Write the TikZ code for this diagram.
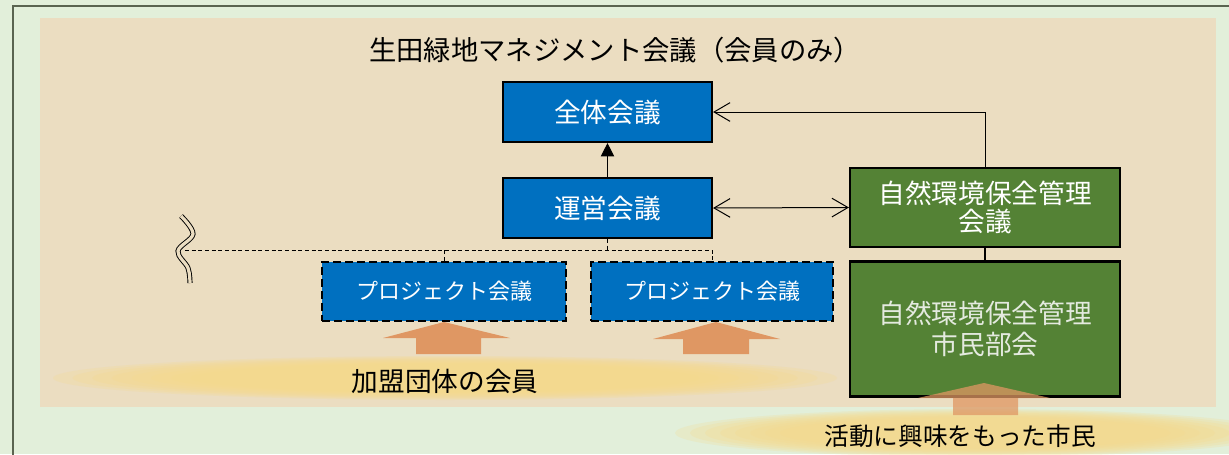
\documentclass[tikz,border=0pt]{standalone}
\usepackage{fontspec}
\setmainfont{Noto Sans CJK JP}
\usetikzlibrary{arrows.meta}
\definecolor{bgg}{HTML}{E2EFDA}
\definecolor{beige}{HTML}{EBDDC1}
\definecolor{blu}{HTML}{0070C0}
\definecolor{grn}{HTML}{548235}
\definecolor{org}{HTML}{DF9763}
\definecolor{glow}{HTML}{F7D98A}
\definecolor{frm}{HTML}{5A6450}
\definecolor{gtxt}{HTML}{E4EADF}
\tikzset{
  bluebox/.style={draw=black, line width=1.6pt, fill=blu, text=white, font=\fontsize{20}{24}\selectfont, inner sep=0pt},
  pjbox/.style={draw=black, line width=2pt, dash pattern=on 6pt off 3pt, fill=blu, text=white, font=\fontsize{16.5}{20}\selectfont, inner sep=0pt},
  grnbox/.style={draw=black, line width=1.6pt, fill=grn, text=white, font=\fontsize{20}{24}\selectfont, inner sep=0pt, align=center},
  conn/.style={line width=0.75pt, black},
  dconn/.style={line width=0.7pt, black, dash pattern=on 3pt off 2pt},
  barb/.tip={Straight Barb[length=12pt, width=14pt, line width=0.75pt]},
  uparrow/.style={fill=org, draw=none},
  lbl/.style={font=\fontsize{20}{24}\selectfont, text=black},
}
\begin{document}
\begin{tikzpicture}[x=0.75pt, y=-0.75pt]
\useasboundingbox (0,0) rectangle (1229,454);
\clip (0,0) rectangle (1229,454);
\fill[bgg] (0,0) rectangle (1229,454);
\draw[frm, line width=1.2pt] (13,460) -- (13,6) -- (1240,6);
\fill[beige] (40,18) rectangle (1216,407);
% glows
\foreach \s in {1.0,0.95,0.9,0.85,0.8,0.75,0.7,0.65} {
  \fill[glow, opacity=0.22] (445,378) ellipse ({392*\s} and {22*\s});
  \fill[glow, opacity=0.22] (975,433) ellipse ({300*\s} and {24*\s});
}
% orange block arrows
\fill[uparrow] (444,322) -- (510,338) -- (481,338) -- (481,354) -- (416,354) -- (416,338) -- (383,338) -- cycle;
\fill[uparrow] (716,322) -- (780,339) -- (749,339) -- (749,354) -- (683,354) -- (683,339) -- (653,339) -- cycle;

\node[font=\fontsize{20.5}{24}\selectfont] (title) at (615,50) {生田緑地マネジメント会議（会員のみ）};

\node[bluebox, minimum width={209*0.75pt}, minimum height={60*0.75pt}] (zen) at (607.5,112) {全体会議};
\node[bluebox, minimum width={209*0.75pt}, minimum height={60*0.75pt}] (unei) at (607.5,208) {運営会議};
\node[pjbox, minimum width={244*0.75pt}, minimum height={59*0.75pt}] (pj1) at (444,291.5) {プロジェクト会議};
\node[pjbox, minimum width={242*0.75pt}, minimum height={59*0.75pt}] (pj2) at (712,291.5) {プロジェクト会議};
\node[grnbox, minimum width={270*0.75pt}, minimum height={79*0.75pt}] (g1) at (985,207.5) {自然環境保全管理\\[-3pt]会議};
\node[grnbox, text=gtxt, minimum width={270*0.75pt}, minimum height={135*0.75pt}] (g2) at (985,329) {自然環境保全管理\\[-1pt]市民部会};

\fill[uparrow, opacity=0.75] (984,383) -- (1050,398) -- (1018,398) -- (1018,415) -- (953,415) -- (953,398) -- (918,398) -- cycle;

\node[lbl] (kamei) at (445,381) {加盟団体の会員};
\node[lbl, font=\fontsize{18.5}{22}\selectfont] (shimin) at (960,436) {活動に興味をもった市民};

% connectors
\draw[conn, -{Triangle[length=10pt, width=10pt]}] (unei.north) -- (zen.south);
\draw[conn, barb-barb] (unei.east) -- (g1.west);
\draw[conn, -barb] (g1.north) |- (zen.east);
\draw[conn, line width=1.2pt] (g1.south) -- (g2.north);

\coordinate (brk) at (185,250);
\coordinate (dj) at (712,250);
\draw[dconn] (brk) -- (dj) -- (pj2.north);
\draw[dconn] (unei.south) -- (unei.south |- brk);
\draw[dconn] (pj1.north) -- (pj1.north |- brk);
% break mark
\draw[black, line width=0.7pt, double=beige, double distance=2.4pt]
  plot[smooth, tension=0.6] coordinates {(181,216) (193,234) (178,251) (188,268) (190,283)};
\end{tikzpicture}
\end{document}
